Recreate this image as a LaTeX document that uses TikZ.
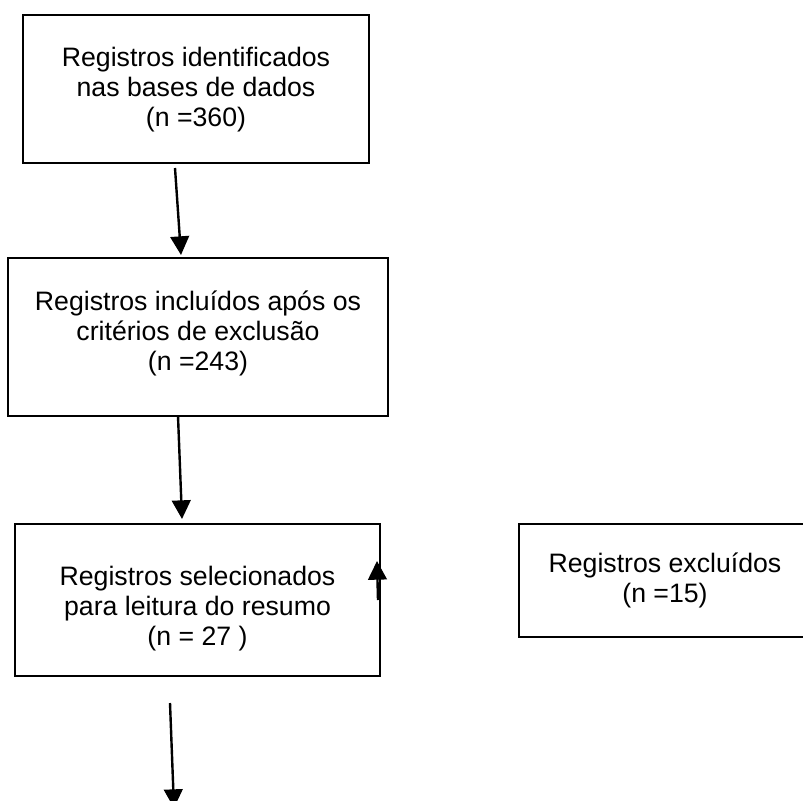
\documentclass[tikz,border=0pt]{standalone}
\usepackage{fontspec}
\setmainfont{Liberation Sans}
\usetikzlibrary{arrows.meta,calc}
\begin{document}
\begin{tikzpicture}[x=0.75pt,y=-0.75pt,
  box/.style={draw=black,line width=1.4pt,inner sep=0pt,fill=none},
  lbl/.style={inner sep=0pt,align=center,anchor=north,font=\fontsize{20}{22.5}\selectfont},
  arr/.style={line width=1.8pt,-{Triangle[length=14pt,width=14pt]}}]
\useasboundingbox (0,0) rectangle (803,800);
% boxes
\node[box,minimum width=346*0.75pt,minimum height=148*0.75pt] (b1) at (196,89) {};
\node[box,minimum width=380*0.75pt,minimum height=158*0.75pt] (b2) at (198,337) {};
\node[box,minimum width=365*0.75pt,minimum height=152*0.75pt] (b3) at (197.5,600) {};
\node[box,minimum width=292*0.75pt,minimum height=113*0.75pt] (b4) at (665,580.5) {};
% texts
\node[lbl] (t1) at ($(b1.north)+(0,30.7)$) {\strut Registros identificados\\nas bases de dados\\(n =360)\strut};
\node[lbl] (t2) at ($(b2.north)+(0,31.7)$) {\strut Registros incluídos após os\\critérios de exclusão\\(n =243)\strut};
\node[lbl] (t3) at ($(b3.north)+(0,40.7)$) {\strut Registros selecionados\\para leitura do resumo\\(n = 27 )\strut};
\node[lbl] (t4) at ($(b4.north)+(0,27.7)$) {\strut Registros excluídos\\(n =15)\strut};
% connectors
\coordinate (a1s) at (175,168);
\coordinate (a1e) at (181,255);
\coordinate (a2s) at (178,416);
\coordinate (a2e) at (182,519);
\coordinate (a3s) at (170,703);
\coordinate (a3e) at (174,808);
\coordinate (a4s) at (378,600);
\coordinate (a4e) at (377,561);
\draw[arr] (a1s) -- (a1e);
\draw[arr] (a2s) -- (a2e);
\draw[arr] (a3s) -- (a3e);
\draw[arr] (a4s) -- (a4e);
\end{tikzpicture}
\end{document}
